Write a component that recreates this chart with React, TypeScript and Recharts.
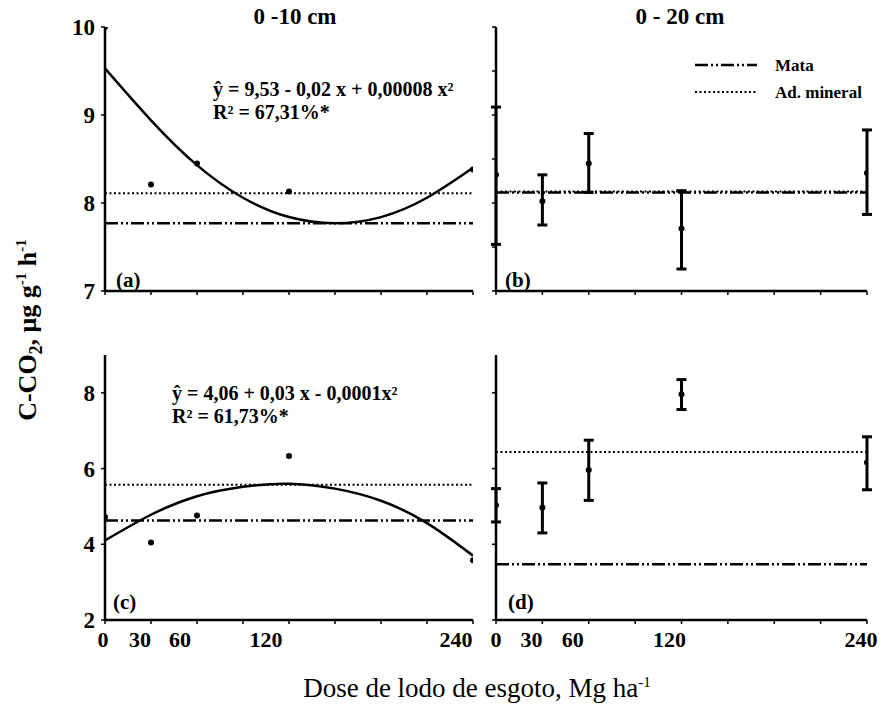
import React from 'react';
import {
  ComposedChart,
  Line,
  Scatter,
  ErrorBar,
  XAxis,
  YAxis,
  ReferenceLine
} from 'recharts';

// doses of sewage sludge (Mg/ha)
const doses = [0, 30, 60, 120, 240];
const curveX = [0, 30, 60, 90, 120, 150, 180, 210, 240];
const xTicks = [0, 30, 60, 90, 120, 150, 180, 210, 240];
const xLabels = [0, 30, 60, 120, 240];

// (a) 0-10 cm, top
const pointsA = [10.0, 8.21, 8.45, 8.13, 8.38];
const curveA = [9.53, 8.94, 8.43, 8.06, 7.84, 7.77, 7.84, 8.06, 8.4];
const mataA = 7.77;
const mineralA = 8.11;

// (b) 0-20 cm, top
const meansB = [8.32, 8.02, 8.45, 7.71, 8.34];
const lowB = [7.53, 7.75, 8.12, 7.25, 7.87];
const highB = [9.09, 8.32, 8.79, 8.14, 8.83];
const mataB = 8.12;
const mineralB = 8.13;

// (c) 0-10 cm, bottom
const pointsC = [4.72, 4.05, 4.76, 6.33, 3.58];
const curveC = [4.1, 4.78, 5.27, 5.52, 5.6, 5.47, 5.15, 4.56, 3.7];
const mataC = 4.63;
const mineralC = 5.57;

// (d) 0-20 cm, bottom
const meansD = [5.03, 4.97, 5.96, 7.96, 6.16];
const lowD = [4.59, 4.3, 5.16, 7.56, 5.44];
const highD = [5.47, 5.62, 6.75, 8.35, 6.84];
const mataD = 3.47;
const mineralD = 6.44;

const topTicks = [7, 8, 9, 10];
const topTicksB = [7, 7.5, 8, 8.5, 9, 9.5, 10];
const bottomTicks = [2, 4, 6, 8];

const FONT = "'Liberation Serif', 'Times New Roman', serif";
const MATA_DASH = '13 3 2 3 2 3';
const MINERAL_DASH = '2 2.5';

// the printed tick labels sit a little left of their ticks
const shiftLeft: { [k: number]: number } = { 0: -2, 30: -11, 60: -17, 120: -23, 240: -17 };
const shiftRight: { [k: number]: number } = { 0: 0, 30: -11, 60: -16, 120: -12, 240: -6 };

const toPoints = (ys: number[]) => doses.map((x, i) => ({ x, y: ys[i] }));
const toCurve = (ys: number[]) => curveX.map((x, i) => ({ x, y: ys[i] }));
const toBars = (ys: number[], lo: number[], hi: number[]) =>
  doses.map((x, i) => ({ x, y: ys[i], err: [ys[i] - lo[i], hi[i] - ys[i]] }));

const Dot = (props: any) => <circle cx={props.cx} cy={props.cy} r={3} fill="#000" />;

interface PanelProps {
  plotX: number;
  plotY: number;
  plotW: number;
  plotH: number;
  yDomain: [number, number];
  yTicks: number[];
  showY: boolean;
  showX: boolean;
  shift: { [k: number]: number };
  points?: any[];
  curve?: any[];
  bars?: any[];
  mata: number;
  mineral: number;
}

const Panel: React.FC<PanelProps> = ({
  plotX, plotY, plotW, plotH, yDomain, yTicks, showY, showX, shift, points, curve, bars, mata, mineral
}) => {
  const yW = 60;
  const xH = 45;
  const mTop = 20;
  const mRight = 14;

  const XTick = (props: any) => {
    const v = props.payload.value;
    if (!showX || !xLabels.includes(v)) return <g />;
    return (
      <text
        x={props.x + (shift[v] ?? 0)}
        y={props.y}
        dy="0.72em"
        textAnchor="middle"
        fontFamily={FONT}
        fontWeight={700}
        fontSize={22}
        fill="#000"
      >
        {v}
      </text>
    );
  };

  return (
    <div style={{ position: 'absolute', left: plotX - yW, top: plotY - mTop }}>
      <ComposedChart
        width={plotW + yW + mRight}
        height={plotH + mTop + xH}
        margin={{ top: mTop, right: mRight, left: 0, bottom: 0 }}
      >
        <XAxis
          type="number"
          dataKey="x"
          domain={[0, 240]}
          ticks={xTicks}
          interval={0}
          allowDataOverflow
          height={xH}
          tickSize={4}
          tickMargin={7}
          axisLine={{ stroke: '#000', strokeWidth: 2.5 }}
          tickLine={{ stroke: '#000', strokeWidth: 1.5 }}
          tick={XTick}
        />
        <YAxis
          type="number"
          domain={yDomain}
          ticks={yTicks}
          interval={0}
          allowDataOverflow
          width={yW}
          tickSize={4}
          tickMargin={6}
          axisLine={{ stroke: '#000', strokeWidth: 2.5 }}
          tickLine={{ stroke: '#000', strokeWidth: 1.5 }}
          tickFormatter={(v: number) => (showY ? String(v) : '')}
          tick={{ fontFamily: FONT, fontWeight: 700, fontSize: 23, fill: '#000' }}
        />
        <ReferenceLine y={mata} stroke="#000" strokeWidth={2.5} strokeDasharray={MATA_DASH} />
        <ReferenceLine y={mineral} stroke="#000" strokeWidth={2} strokeDasharray={MINERAL_DASH} />
        {curve && (
          <Line
            data={curve}
            dataKey="y"
            type="natural"
            stroke="#000"
            strokeWidth={2.5}
            dot={false}
            activeDot={false}
            isAnimationActive={false}
          />
        )}
        {points && (
          <Scatter data={points} dataKey="y" shape={Dot} isAnimationActive={false} />
        )}
        {bars && (
          <Scatter data={bars} dataKey="y" shape={Dot} isAnimationActive={false}>
            <ErrorBar dataKey="err" direction="y" width={5} strokeWidth={3} stroke="#000" />
          </Scatter>
        )}
      </ComposedChart>
    </div>
  );
};

const txt = { fontFamily: FONT, fontWeight: 700, fill: '#000' } as const;

const App: React.FC = () => {
  const left = { plotX: 105, plotW: 368, shift: shiftLeft };
  const right = { plotX: 496, plotW: 371, shift: shiftRight };
  const top = { plotY: 27, plotH: 264, yDomain: [7, 10] as [number, number] };
  const bottom = { plotY: 355, plotH: 265, yDomain: [2, 9] as [number, number] };

  return (
    <div style={{ position: 'absolute', left: 0, top: 0, width: 885, height: 710, background: '#fff' }}>
      <Panel {...left} {...top} yTicks={topTicks} showY showX={false}
        points={toPoints(pointsA)} curve={toCurve(curveA)} mata={mataA} mineral={mineralA} />
      <Panel {...right} {...top} yTicks={topTicksB} showY={false} showX={false}
        bars={toBars(meansB, lowB, highB)} mata={mataB} mineral={mineralB} />
      <Panel {...left} {...bottom} yTicks={bottomTicks} showY showX
        points={toPoints(pointsC)} curve={toCurve(curveC)} mata={mataC} mineral={mineralC} />
      <Panel {...right} {...bottom} yTicks={bottomTicks} showY={false} showX
        bars={toBars(meansD, lowD, highD)} mata={mataD} mineral={mineralD} />

      <svg width={885} height={710} style={{ position: 'absolute', left: 0, top: 0, pointerEvents: 'none' }}>
        <text x={295} y={24} textAnchor="middle" fontSize={23} {...txt}>0 -10 cm</text>
        <text x={680} y={24} textAnchor="middle" fontSize={23} {...txt}>0 - 20 cm</text>

        <text x={213} y={96} fontSize={20} {...txt}>ŷ = 9,53 - 0,02 x + 0,00008 x²</text>
        <text x={213} y={119} fontSize={20} {...txt}>R² = 67,31%*</text>
        <text x={172} y={400} fontSize={20} {...txt}>ŷ = 4,06 + 0,03 x - 0,0001x²</text>
        <text x={172} y={423} fontSize={20} {...txt}>R² = 61,73%*</text>

        <text x={116} y={287} fontSize={21} {...txt}>(a)</text>
        <text x={505} y={287} fontSize={21} {...txt}>(b)</text>
        <text x={113} y={609} fontSize={21} {...txt}>(c)</text>
        <text x={508} y={609} fontSize={21} {...txt}>(d)</text>

        <line x1={695} y1={65} x2={757} y2={65} stroke="#000" strokeWidth={2.5} strokeDasharray={MATA_DASH} />
        <text x={775} y={71} fontSize={17} {...txt}>Mata</text>
        <line x1={695} y1={92} x2={758} y2={92} stroke="#000" strokeWidth={2} strokeDasharray={MINERAL_DASH} />
        <text x={775} y={98} fontSize={17} {...txt}>Ad. mineral</text>

        <text transform="translate(36,330) rotate(-90)" textAnchor="middle" fontSize={26} {...txt}>
          C-CO<tspan dy={6} fontSize={18}>2</tspan>
          <tspan dy={-6}>, μg g</tspan>
          <tspan dy={-10} fontSize={15}>-1</tspan>
          <tspan dy={10}> h</tspan>
          <tspan dy={-10} fontSize={15}>-1</tspan>
        </text>

        <text x={477} y={697} textAnchor="middle" fontSize={27} fontFamily={FONT} fill="#000">
          Dose de lodo de esgoto, Mg ha<tspan dy={-10} fontSize={15}>-1</tspan>
        </text>
      </svg>
    </div>
  );
};

export default App;
